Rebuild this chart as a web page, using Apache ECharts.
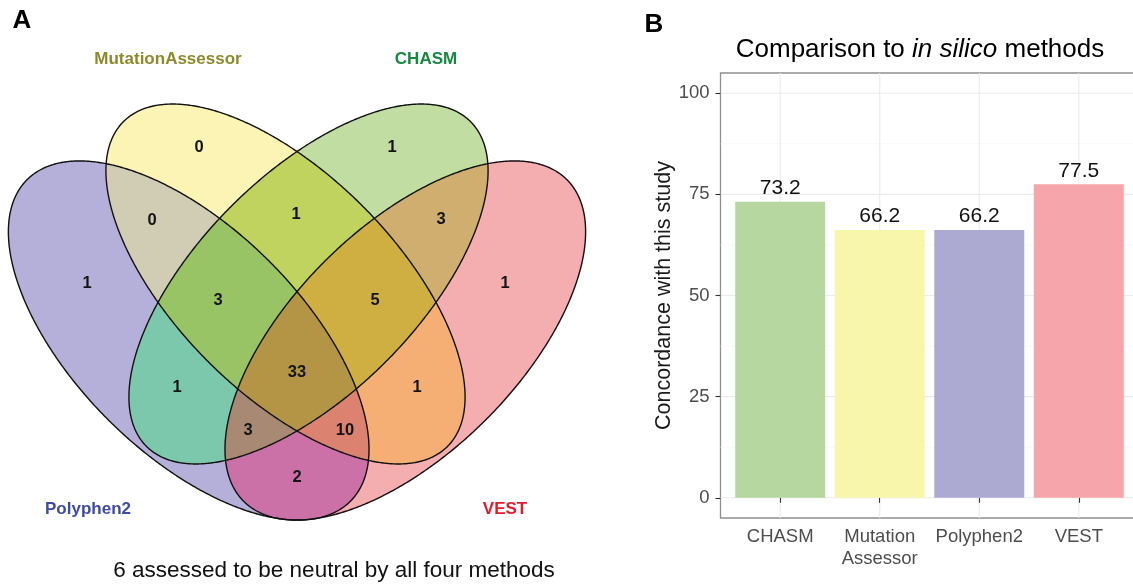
<!DOCTYPE html>
<html><head><meta charset="utf-8">
<script src="https://cdn.jsdelivr.net/npm/echarts@6/dist/echarts.min.js"></script>
<style>html,body{margin:0;padding:0;background:#fff}#c{width:1133px;height:584px}</style>
</head><body><div id="c"></div>
<script>
// ---------------- Panel A data ----------------
const vennSets = ['Polyphen2', 'MutationAssessor', 'CHASM', 'VEST'];
// membership of each region, in vennSets order
const vennRegions = ['1000','0100','0010','0001','1100','0110','0011','1010','0101','1001','1110','0111','1011','1101','1111'];
const vennCounts  = [1, 0, 1, 1, 0, 1, 3, 1, 1, 2, 3, 5, 3, 10, 33];
const neutralCount = 6;

// ---------------- Panel B data ----------------
const methods = ['CHASM', 'Mutation\nAssessor', 'Polyphen2', 'VEST'];
const concordance = [73.2, 66.2, 66.2, 77.5];
const yTicks = [0, 25, 50, 75, 100];
const yMinorTicks = [12.5, 37.5, 62.5, 87.5];

// ---------------- layout / style ----------------
const FONT = "'Liberation Sans', Arial, Helvetica, sans-serif";
// ellipses in the venn plane: centre, semi-axes, tilt of major axis (deg, y downward)
const ellipses = [
  {cx: 188.7, cy: 340.5, a: 228, b: 113, ang: 44.8},
  {cx: 285.5, cy: 284, a: 229.4, b: 109.6, ang: 45.1},
  {cx: 308.5, cy: 284, a: 229.4, b: 109.6, ang: -45.1},
  {cx: 405.3, cy: 340.5, a: 228, b: 113, ang: -44.8}
];
const regionColors = ['#b5b0da','#fbf4b4','#c2dda2','#f4aeb0','#d1ccb4','#bfd35e','#cfae70','#7cc8ac','#f5ae74','#cc70a8','#98c466','#cfae42','#a88a74','#dc8270','#b49545'];
const regionLabelPos = [[87,283],[199,147],[392,147],[505,283],[152,220],[296,214],[441,219],[177,387],[417,387],[297,477],[218,300],[375,300],[248,430],[345,430],[297,372]];
const setLabelPos = [[88,509],[168,59],[426,59],[505,509]];
const setColors = ['#3f4aa1','#8d8a2c','#16883f','#e31a2c'];
const barColors = ['#b6d8a0','#f8f6aa','#adaad2','#f6a6aa'];

// ---------------- geometry helpers ----------------
const N = 1440;
function ellPoint(e, t) {
  const th = e.ang * Math.PI / 180, c = Math.cos(th), s = Math.sin(th);
  const u = e.a * Math.cos(t), v = e.b * Math.sin(t);
  return [e.cx + u * c - v * s, e.cy + u * s + v * c];
}
function isInside(e, p) {
  const th = e.ang * Math.PI / 180, c = Math.cos(th), s = Math.sin(th);
  const dx = p[0] - e.cx, dy = p[1] - e.cy;
  const u = dx * c + dy * s, v = -dx * s + dy * c;
  return (u * u) / (e.a * e.a) + (v * v) / (e.b * e.b) < 1;
}
function dist(p, q) { return Math.hypot(p[0] - q[0], p[1] - q[1]); }
function regionPolygon(maskStr) {
  const mask = maskStr.split('').map(Number);
  const runs = [];
  for (let i = 0; i < ellipses.length; i++) {
    const pts = [], ok = [];
    for (let k = 0; k < N; k++) {
      const p = ellPoint(ellipses[i], 2 * Math.PI * k / N);
      pts.push(p);
      let good = true;
      for (let j = 0; j < ellipses.length; j++) {
        if (j === i) continue;
        if (isInside(ellipses[j], p) !== !!mask[j]) { good = false; break; }
      }
      ok.push(good);
    }
    if (ok.every(x => x)) { runs.push(pts); continue; }
    const start = ok.findIndex(x => !x);
    let cur = null;
    for (let m = 1; m <= N; m++) {
      const k = (start + m) % N;
      if (ok[k]) { if (!cur) cur = []; cur.push(pts[k]); }
      else if (cur) { runs.push(cur); cur = null; }
    }
    if (cur) runs.push(cur);
  }
  if (!runs.length) return [];
  const poly = runs.shift().slice();
  while (runs.length) {
    const end = poly[poly.length - 1];
    let best = -1, bestD = Infinity, rev = false;
    runs.forEach((r, idx) => {
      const d1 = dist(end, r[0]), d2 = dist(end, r[r.length - 1]);
      if (d1 < bestD) { bestD = d1; best = idx; rev = false; }
      if (d2 < bestD) { bestD = d2; best = idx; rev = true; }
    });
    let r = runs.splice(best, 1)[0];
    if (rev) r = r.slice().reverse();
    for (const p of r) poly.push(p);
  }
  return poly;
}
const regionPolys = vennRegions.map(regionPolygon);
const outlinePolys = ellipses.map(e => {
  const a = [];
  for (let k = 0; k < 720; k++) a.push(ellPoint(e, 2 * Math.PI * k / 720));
  return a;
});

// ---------------- chart ----------------
const chart = echarts.init(document.getElementById('c'), null, {renderer: 'canvas'});
const hiddenSymbol = {color: 'rgba(0,0,0,0)', opacity: 1};
const option = {
  animation: false,
  backgroundColor: '#ffffff',
  textStyle: {fontFamily: FONT},
  grid: [
    {left: 0, top: 0, width: 600, height: 584, show: false, outerBoundsMode: 'none', containLabel: false},
    {left: 720.5, top: 73, width: 418, height: 445, show: true, borderColor: '#8f8f8f', borderWidth: 1.3,
     backgroundColor: 'rgba(0,0,0,0)', outerBoundsMode: 'none', containLabel: false}
  ],
  xAxis: [
    {gridIndex: 0, type: 'value', min: 0, max: 600, show: false},
    {gridIndex: 1, type: 'value', min: 0.4, max: 4.6,
     axisLine: {show: false}, splitLine: {show: false},
     axisTick: {show: true, customValues: [1, 2, 3, 4], length: 5, lineStyle: {color: '#333', width: 1.1}},
     axisLabel: {show: true, customValues: [1, 2, 3, 4], formatter: v => methods[Math.round(v) - 1],
                 fontSize: 18.5, color: '#4d4d4d', margin: 8, lineHeight: 22, fontFamily: FONT}}
  ],
  yAxis: [
    {gridIndex: 0, type: 'value', min: 0, max: 584, inverse: true, show: false},
    {gridIndex: 1, type: 'value', min: -5, max: 105,
     axisLine: {show: false}, splitLine: {show: false},
     axisTick: {show: true, customValues: yTicks, length: 5, lineStyle: {color: '#333', width: 1.1}},
     axisLabel: {show: true, customValues: yTicks, fontSize: 18.5, color: '#4d4d4d', margin: 11, fontFamily: FONT},
     name: 'Concordance with this study', nameLocation: 'middle', nameGap: 40, nameRotate: 90,
     nameTextStyle: {fontSize: 21.5, color: '#1a1a1a', fontFamily: FONT}}
  ],
  graphic: [
    {type: 'text', x: 22, y: 21, style: {text: 'A', font: 'bold 26px ' + FONT, fill: '#000', textAlign: 'center', textVerticalAlign: 'middle', align: 'center', verticalAlign: 'middle'}},
    {type: 'text', x: 654, y: 25, style: {text: 'B', font: 'bold 26px ' + FONT, fill: '#000', textAlign: 'center', textVerticalAlign: 'middle', align: 'center', verticalAlign: 'middle'}},
    {type: 'text', x: 334, y: 571, style: {text: neutralCount + ' assessed to be neutral by all four methods', font: '22.5px ' + FONT, fill: '#111', textAlign: 'center', textVerticalAlign: 'middle', align: 'center', verticalAlign: 'middle'}},
    {type: 'text', x: 920, y: 50, style: {
      text: '{n|Comparison to }{i|in silico}{n| methods}',
      rich: {n: {fontSize: 26, fontFamily: FONT, color: '#111'}, i: {fontSize: 26, fontFamily: FONT, fontStyle: 'italic', color: '#111'}},
      textAlign: 'center', textVerticalAlign: 'middle', align: 'center', verticalAlign: 'middle'}}
  ],
  series: [
    // venn regions
    {type: 'custom', xAxisIndex: 0, yAxisIndex: 0, z: 1, silent: true,
     data: vennRegions.map((r, i) => [i, 0]),
     renderItem: function (params, api) {
       const i = params.dataIndex;
       const pts = regionPolys[i].map(p => api.coord(p));
       return {type: 'polygon', shape: {points: pts}, style: {fill: regionColors[i], stroke: regionColors[i], lineWidth: 0.6}};
     }},
    // venn outlines
    {type: 'custom', xAxisIndex: 0, yAxisIndex: 0, z: 2, silent: true,
     data: vennSets.map((s, i) => [i, 0]),
     renderItem: function (params, api) {
       const pts = outlinePolys[params.dataIndex].map(p => api.coord(p));
       return {type: 'polygon', shape: {points: pts}, style: {fill: 'none', stroke: '#111', lineWidth: 1.4}};
     }},
    // region counts
    {type: 'scatter', xAxisIndex: 0, yAxisIndex: 0, z: 3, silent: true, symbolSize: 1,
     itemStyle: hiddenSymbol,
     label: {show: true, position: 'inside', fontSize: 16.5, fontWeight: 'bold', color: '#141414', opacity: 1, fontFamily: FONT},
     data: vennCounts.map((c, i) => ({value: regionLabelPos[i], label: {formatter: String(c)}}))},
    // set names
    {type: 'scatter', xAxisIndex: 0, yAxisIndex: 0, z: 3, silent: true, symbolSize: 1,
     itemStyle: hiddenSymbol,
     label: {show: true, position: 'inside', fontSize: 17, fontWeight: 'bold', opacity: 1, fontFamily: FONT},
     data: vennSets.map((s, i) => ({value: setLabelPos[i], label: {formatter: s, color: setColors[i]}}))},
    // panel B gridlines
    {type: 'custom', xAxisIndex: 1, yAxisIndex: 1, z: 0, silent: true,
     data: yTicks.map(v => [v, 0]).concat(yMinorTicks.map(v => [v, 1])).concat(methods.map((m, i) => [i + 1, 2])),
     renderItem: function (params, api) {
       const cs = params.coordSys;
       const v = api.value(0), kind = api.value(1);
       if (kind === 2) {
         const x = api.coord([v, 0])[0];
         return {type: 'line', shape: {x1: x, y1: cs.y, x2: x, y2: cs.y + cs.height}, style: {stroke: '#ebebeb', lineWidth: 1.1}};
       }
       const y = api.coord([1, v])[1];
       return {type: 'line', shape: {x1: cs.x, y1: y, x2: cs.x + cs.width, y2: y},
               style: {stroke: kind === 0 ? '#ebebeb' : '#f5f5f5', lineWidth: kind === 0 ? 1.1 : 0.7}};
     }},
    // bars
    {type: 'bar', xAxisIndex: 1, yAxisIndex: 1, z: 2, barWidth: 90,
     data: concordance.map((v, i) => ({value: [i + 1, v], itemStyle: {color: barColors[i]}})),
     label: {show: true, position: 'top', distance: 3, fontSize: 21, color: '#111', fontFamily: FONT,
             formatter: p => p.value[1].toFixed(1)}}
  ]
};
chart.setOption(option);
</script></body></html>
